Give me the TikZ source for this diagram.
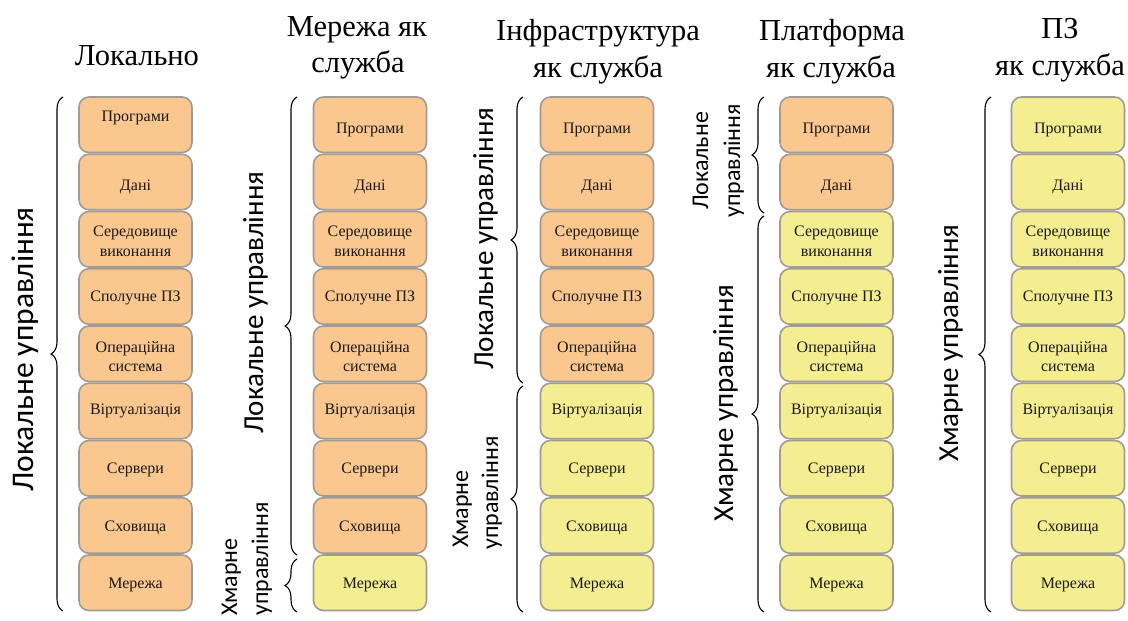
\documentclass[tikz,border=0pt]{standalone}
\usepackage{fontspec}
\setmainfont{Liberation Serif}
\newfontfamily\serifcyr{Liberation Serif}
\newfontfamily\labelfont{Carlito}
\usetikzlibrary{decorations.pathreplacing}

\definecolor{layerorange}{RGB}{250,200,143}
\definecolor{layeryellow}{RGB}{245,238,145}
\definecolor{layeredge}{RGB}{160,155,148}

\tikzset{
  layer/.style={draw=layeredge, line width=1.6pt, rounded corners=10pt,
    minimum width=113pt, minimum height=55.5pt, inner sep=0pt},
  localbox/.style={layer, fill=layerorange},
  cloudbox/.style={layer, fill=layeryellow},
  layertext/.style={font=\serifcyr\fontsize{16}{19.5}\selectfont, align=center,
    text=black!90, inner sep=0pt},
  title/.style={font=\serifcyr\fontsize{30.5}{36}\selectfont, inner sep=0pt, anchor=base},
  side/.style={font=\labelfont\fontsize{29}{34}\selectfont, rotate=90, inner sep=0pt},
  sidebig/.style={side, font=\labelfont\fontsize{31.5}{36}\selectfont},
  sidesmall/.style={side, font=\labelfont\fontsize{24}{29}\selectfont},
  bracket/.style={draw, line width=1.1pt, decorate, decoration={brace, amplitude=12pt}},
}

\begin{document}
\begin{tikzpicture}[x=1pt, y=-1pt]
\useasboundingbox (0,0) rectangle (1128,621);

% column headings
\node[title] (t1)  at (137,65) {Локально};
\node[title] (t2a) at (357,36) {Мережа як};
\node[title] (t2b) at (358,72) {служба};
\node[title] (t3a) at (598,40) {Інфраструктура};
\node[title] (t3b) at (598,77) {як служба};
\node[title] (t4a) at (832,40) {Платформа};
\node[title] (t4b) at (831,77) {як служба};
\node[title] (t5a) at (1060,38) {ПЗ};
\node[title] (t5b) at (1060,75) {як служба};

% layer stacks: column / centre x / number of locally managed layers
\foreach \col/\cx/\nloc in {1/135.5/9, 2/370/8, 3/597/5, 4/836.5/2, 5/1068/0} {
  \foreach \row/\dy/\txt in {1/5/Програми, 2/5/Дані, 3/2/{Середовище\\виконання},
      4/1/Сполучне ПЗ, 5/3/{Операційна\\система}, 6/0/Віртуалізація,
      7/2/Сервери, 8/2/Сховища, 9/2/Мережа} {
    \pgfmathsetmacro{\cy}{97 + 57.25*(\row-1) + 27.75}
    \ifnum\row>\nloc
      \node[cloudbox] (c\col r\row) at (\cx,\cy) {};
    \else
      \node[localbox] (c\col r\row) at (\cx,\cy) {};
    \fi
    \pgfmathsetmacro{\shift}{(\col==1 && \row==1) ? 7 : -\dy}
    \node[layertext] (l\col r\row) at ([yshift=\shift pt]c\col r\row.center) {\txt};
  }
}

% braces
\coordinate (b1a) at (63,611);  \coordinate (b1b) at (63,97);
\coordinate (b2a) at (297,555); \coordinate (b2b) at (297,97);
\coordinate (b2c) at (297,612); \coordinate (b2d) at (297,559);
\coordinate (b3a) at (523,383); \coordinate (b3b) at (523,97);
\coordinate (b3c) at (523,612); \coordinate (b3d) at (523,386);
\coordinate (b4a) at (764,213); \coordinate (b4b) at (764,97);
\coordinate (b4c) at (764,612); \coordinate (b4d) at (764,216);
\coordinate (b5a) at (991,612); \coordinate (b5b) at (991,97);
\draw[bracket] (b1a) -- (b1b);
\draw[bracket] (b2a) -- (b2b);
\draw[bracket] (b2c) -- (b2d);
\draw[bracket] (b3a) -- (b3b);
\draw[bracket] (b3c) -- (b3d);
\draw[bracket] (b4a) -- (b4b);
\draw[bracket] (b4c) -- (b4d);
\draw[bracket] (b5a) -- (b5b);

% side labels
\node[sidebig, anchor=base west] (s1) at (33,492) {Локальне управління};
\node[side, anchor=base west] (s2l) at (263,434) {Локальне управління};
\node[sidesmall, anchor=base west] (s2c1) at (237,616) {Хмарне};
\node[sidesmall, anchor=base west] (s2c2) at (268,616) {управління};
\node[side, anchor=base west] (s3l) at (493,370) {Локальне управління};
\node[sidesmall, anchor=base west] (s3c1) at (468,548) {Хмарне};
\node[sidesmall, anchor=base west] (s3c2) at (498,550) {управління};
\node[sidesmall, anchor=base] (s4l1) at (708,161) {Локальне};
\node[sidesmall, anchor=base] (s4l2) at (740,161) {управління};
\node[side, anchor=base west] (s4c) at (733,522) {Хмарне управління};
\node[side, anchor=base west] (s5c) at (958,462) {Хмарне управління};
\end{tikzpicture}
\end{document}
